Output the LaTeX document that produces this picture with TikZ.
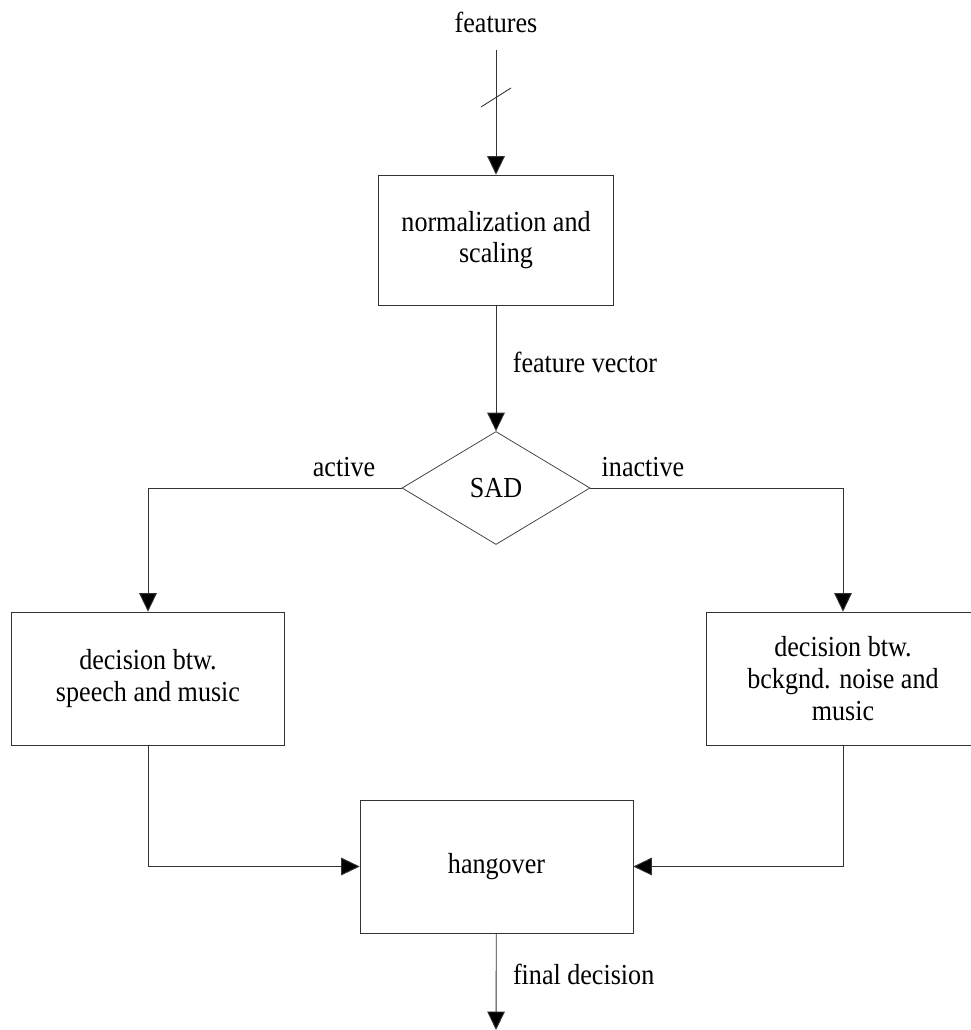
\documentclass[tikz,border=0pt]{standalone}
\usepackage{fontspec}
\setmainfont{Liberation Serif}[FakeStretch=0.9]
\usetikzlibrary{arrows.meta,shapes.geometric}

\begin{document}
\begin{tikzpicture}[x=0.02cm,y=-0.02cm,
    every node/.style={font=\fontsize{16.5}{18}\selectfont},
    blk/.style={draw=black!80,align=center,minimum width=4.7cm,minimum height=2.6cm,inner sep=2pt},
    wblk/.style={blk,minimum width=5.46cm,minimum height=2.66cm},
    ln/.style={draw=black!80,line width=0.5pt},
    arr/.style={ln,-{Triangle[length=10.5pt,width=10pt,fill=black]}}]
              \useasboundingbox (0,0) rectangle (970,1030);
              \node(feat)at(496,22){features};
              \coordinate(in)at(496,50);
              \coordinate(out)at(496,1030);
              \node[blk](norm)at(496,240){normalization and\\scaling};
              \node[diamond,draw=black!80,inner sep=0pt,minimum width=3.76cm,minimum height=2.26cm](sad)at(496,488){SAD};
              \node[wblk](spm)at(148,678.5){decision btw.\\speech and music};
              \node[wblk](bnm)at(843,678.5){decision btw.\\bckgnd. noise and\\music};
              \node[wblk](hang)at(496.5,866.5){hangover};
              % connectors
              \draw[arr](in)--(norm);
              \draw[ln](481,107)--(511,88);
              \draw[arr](norm)--(sad) node[pos=0.45,right=6pt]{feature vector};
              \draw[arr](sad.west)-|(spm);
              \draw[arr](sad.east)-|(bnm);
              \node(act)at(344,467){active};
              \node(inact)at(643,467){inactive};
              \draw[arr](spm)|-(hang);
              \draw[arr](bnm)|-(hang);
              \draw[arr](hang)--(out) node[pos=0.42,right=6pt]{final decision};
            \end{tikzpicture}
\end{document}
